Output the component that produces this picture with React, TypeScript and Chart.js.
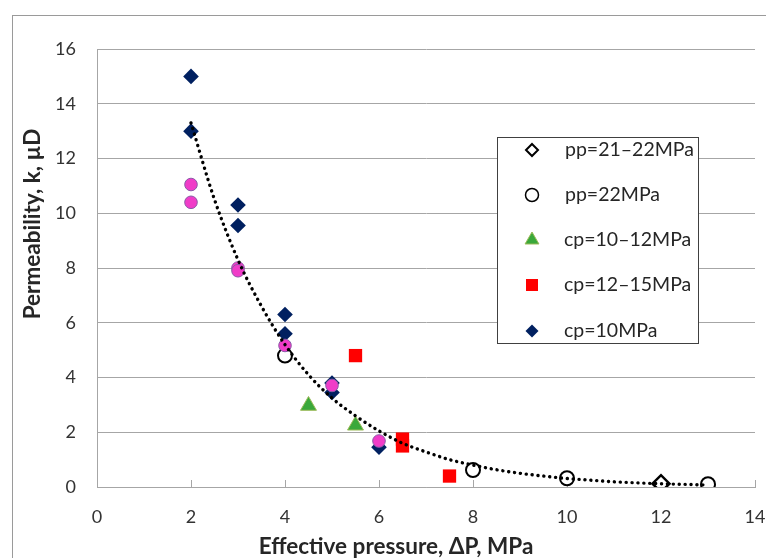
import React, { useEffect, useRef } from 'react';
import { Chart, registerables } from 'chart.js';
Chart.register(...registerables);

// ---- data ----
const ppDiamondX = [12];
const ppDiamondY = [0.12];
const ppCircleX = [4, 8, 10, 13];
const ppCircleY = [4.8, 0.62, 0.32, 0.1];
const cpGreenX = [4.5, 5.5];
const cpGreenY = [2.97, 2.25];
const cpRedX = [5.5, 6.5, 6.5, 7.5];
const cpRedY = [4.8, 1.75, 1.5, 0.4];
const cpNavyX = [2, 2, 3, 3, 4, 4, 5, 5, 6];
const cpNavyY = [15.0, 13.0, 10.3, 9.55, 6.3, 5.6, 3.8, 3.45, 1.45];
const pinkX = [2, 2, 3, 3, 4, 5, 6];
const pinkY = [11.05, 10.4, 8.0, 7.9, 5.17, 3.71, 1.68];
const trendX = [2, 2.5, 3, 3.5, 4, 4.5, 5, 5.5, 6, 6.5, 7, 7.5, 8, 8.5, 9, 9.5, 10, 10.5, 11, 11.5, 12, 12.5, 13];
const trendY = [13.3, 10.5, 8.3, 6.6, 5.2, 4.1, 3.25, 2.6, 2.05, 1.6, 1.28, 1.0, 0.8, 0.63, 0.5, 0.4, 0.31, 0.25, 0.19, 0.15, 0.12, 0.095, 0.075];
const xTicks = [0, 2, 4, 6, 8, 10, 12, 14];
const legendLabels = ['pp=21\u201322MPa', 'pp=22MPa', 'cp=10\u201312MPa', 'cp=12\u201315MPa', 'cp=10MPa'];
const xTitle = 'Effective pressure, \u0394P, MPa';
const yTitle = 'Permeability, k, \u00b5D';

const pts = (xs: number[], ys: number[]) => xs.map((x, i) => ({ x, y: ys[i] }));

const NAVY = '#002060';
const PINK = '#f03cc8';
const GREEN = '#3aa83a';
const RED = '#ff0000';
const GRID = '#a6a6a6';
const FONT = 'Lato, "Open Sans", sans-serif';

const decor = {
  id: 'decor',
  beforeDraw(chart: any) {
    const ctx = chart.ctx;
    ctx.save();
    ctx.fillStyle = '#ffffff';
    ctx.fillRect(0, 0, chart.width, chart.height);
    ctx.strokeStyle = '#9a9a9a';
    ctx.lineWidth = 1;
    ctx.strokeRect(12.5, 15.5, 900, 700);
    ctx.restore();
  },
  beforeDatasetsDraw(chart: any) {
    const ctx = chart.ctx;
    const xs = chart.scales.x;
    const bottom = chart.chartArea.bottom;
    ctx.save();
    ctx.strokeStyle = GRID;
    ctx.lineWidth = 1;
    xTicks.forEach((t) => {
      const px = Math.round(xs.getPixelForValue(t)) + 0.5;
      ctx.beginPath();
      ctx.moveTo(px, bottom);
      ctx.lineTo(px, bottom - 7);
      ctx.stroke();
    });
    ctx.restore();
  },
  afterDraw(chart: any) {
    const ctx = chart.ctx;
    ctx.save();
    // legend box
    const lx = 497.5, ly = 137.5, lw = 201, lh = 206;
    ctx.fillStyle = '#ffffff';
    ctx.fillRect(lx, ly, lw, lh);
    ctx.strokeStyle = '#404040';
    ctx.lineWidth = 1;
    ctx.strokeRect(lx, ly, lw, lh);
    const rows = [150, 195, 240, 285, 331];
    const mx = 532;
    rows.forEach((ry, i) => {
      ctx.beginPath();
      if (i === 0) {
        const r = 6;
        ctx.moveTo(mx, ry - r); ctx.lineTo(mx + r, ry); ctx.lineTo(mx, ry + r); ctx.lineTo(mx - r, ry); ctx.closePath();
        ctx.fillStyle = '#fff'; ctx.fill();
        ctx.strokeStyle = '#000'; ctx.lineWidth = 2; ctx.stroke();
      } else if (i === 1) {
        ctx.arc(mx, ry, 6.5, 0, Math.PI * 2);
        ctx.fillStyle = '#fff'; ctx.fill();
        ctx.strokeStyle = '#000'; ctx.lineWidth = 1.5; ctx.stroke();
      } else if (i === 2) {
        const r = 8;
        ctx.moveTo(mx, ry - r); ctx.lineTo(mx + r * 0.866, ry + r / 2); ctx.lineTo(mx - r * 0.866, ry + r / 2); ctx.closePath();
        ctx.fillStyle = GREEN; ctx.fill();
        ctx.strokeStyle = '#9bbb59'; ctx.lineWidth = 1; ctx.stroke();
      } else if (i === 3) {
        ctx.fillStyle = RED; ctx.fillRect(mx - 6, ry - 6, 12, 12);
      } else {
        const r = 6.5;
        ctx.moveTo(mx, ry - r); ctx.lineTo(mx + r, ry); ctx.lineTo(mx, ry + r); ctx.lineTo(mx - r, ry); ctx.closePath();
        ctx.fillStyle = NAVY; ctx.fill();
      }
      ctx.fillStyle = '#262626';
      ctx.font = '19.5px ' + FONT;
      ctx.textBaseline = 'middle';
      ctx.textAlign = 'left';
      ctx.fillText(legendLabels[i], i < 2 ? 565 : 564, ry);
    });
    // axis titles
    ctx.fillStyle = '#262626';
    ctx.font = 'bold 22.5px ' + FONT;
    ctx.textAlign = 'center';
    ctx.textBaseline = 'middle';
    ctx.fillText(xTitle, 396, 547);
    ctx.translate(33, 224);
    ctx.rotate(-Math.PI / 2);
    ctx.fillText(yTitle, 0, 0);
    ctx.restore();
  },
};

export default function App() {
  const ref = useRef<HTMLCanvasElement>(null);
  useEffect(() => {
    if (!ref.current) return;
    const chart = new Chart(ref.current, {
      type: 'scatter',
      data: {
        datasets: [
          {
            label: 'trend',
            data: pts(trendX, trendY),
            showLine: true,
            pointRadius: 0,
            borderColor: '#000',
            borderWidth: 3.4,
            borderDash: [0.1, 5.8],
            borderCapStyle: 'round',
            cubicInterpolationMode: 'monotone',
            fill: false,
          } as any,
          {
            label: 'pink',
            data: pts(pinkX, pinkY),
            pointStyle: 'circle',
            pointRadius: 6.3,
            backgroundColor: PINK,
            borderColor: '#8a5aa8',
            borderWidth: 1,
          },
          {
            label: legendLabels[3],
            data: pts(cpRedX, cpRedY),
            pointStyle: 'rect',
            pointRadius: 9.4,
            backgroundColor: RED,
            borderColor: RED,
            borderWidth: 0,
          },
          {
            label: legendLabels[2],
            data: pts(cpGreenX, cpGreenY),
            pointStyle: 'triangle',
            pointRadius: 9.2,
            backgroundColor: GREEN,
            borderColor: '#9bbb59',
            borderWidth: 1,
          },
          {
            label: legendLabels[4],
            data: pts(cpNavyX, cpNavyY),
            pointStyle: 'rectRot',
            pointRadius: 7.8,
            backgroundColor: NAVY,
            borderColor: NAVY,
            borderWidth: 0,
          },
          {
            label: legendLabels[1],
            data: pts(ppCircleX, ppCircleY),
            pointStyle: 'circle',
            pointRadius: 7,
            backgroundColor: '#ffffff',
            borderColor: '#000',
            borderWidth: 2,
          },
          {
            label: legendLabels[0],
            data: pts(ppDiamondX, ppDiamondY),
            pointStyle: 'rectRot',
            pointRadius: 8.5,
            backgroundColor: '#ffffff',
            borderColor: '#000',
            borderWidth: 2.5,
          },
        ],
      },
      options: {
        animation: false,
        responsive: false,
        events: [],
        layout: { padding: { top: 49, right: 11, left: 0, bottom: 0 } },
        plugins: {
          legend: { display: false },
          tooltip: { enabled: false },
          title: { display: false },
        },
        scales: {
          x: {
            type: 'linear',
            min: 0,
            max: 14,
            afterFit: (s: any) => { s.height = 71; s.paddingLeft = 0; s.paddingRight = 0; },
            afterBuildTicks: (s: any) => { s.ticks = xTicks.map((v) => ({ value: v })); },
            ticks: {
              stepSize: 2,
              padding: 19,
              color: '#333',
              font: { family: FONT, size: 18 },
            },
            grid: { display: false, drawTicks: false },
            border: { display: true, color: GRID, width: 1 },
          },
          y: {
            type: 'linear',
            min: 0,
            max: 16,
            afterFit: (s: any) => { s.width = 97; s.paddingTop = 0; s.paddingBottom = 0; },
            ticks: {
              stepSize: 2,
              padding: 21,
              color: '#333',
              font: { family: FONT, size: 18 },
            },
            grid: { display: true, color: GRID, lineWidth: 1, drawTicks: false },
            border: { display: true, color: GRID, width: 1 },
          },
        },
      },
      plugins: [decor],
    });
    return () => chart.destroy();
  }, []);
  return (
    <div style={{ position: 'absolute', left: 0, top: 0, width: 766, height: 558 }}>
      <canvas ref={ref} width={766} height={558} style={{ display: 'block', width: 766, height: 558 }} />
    </div>
  );
}
